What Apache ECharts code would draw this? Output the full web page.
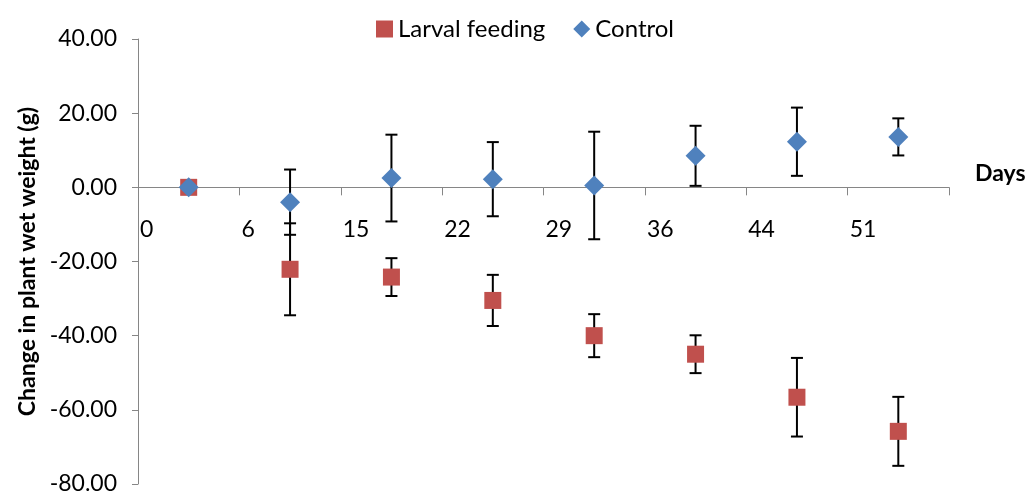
<!DOCTYPE html>
<html>
<head>
<meta charset="utf-8">
<script src="https://cdn.jsdelivr.net/npm/echarts@6/dist/echarts.min.js"></script>
<style>
  html, body { margin: 0; padding: 0; background: #ffffff; }
  #chart { width: 1030px; height: 497px; }
</style>
</head>
<body>
<div id="chart"></div>
<script>
// Sampling days shown under the axis
const dayLabels = ['0', '6', '15', '22', '29', '36', '44', '51'];

// Mean change in plant wet weight (g) and its error (±)
const larvalMean = [0, -22.1, -24.2, -30.5, -40.0, -45.0, -56.6, -65.8];
const larvalErr  = [0, 12.4, 5.1, 6.9, 5.8, 5.1, 10.6, 9.3];
const controlMean = [0, -4.0, 2.5, 2.2, 0.5, 8.5, 12.3, 13.6];
const controlErr  = [0, 8.8, 11.7, 10.0, 14.5, 8.1, 9.2, 5.0];

// Y axis range
const yMin = -80, yMax = 40, yStep = 20;

const FONT = 'Lato';
const RED = '#C0504D';
const BLUE = '#4F81BD';
const AXIS_GREY = '#868686';

const W = 1030, H = 497;
const GRID = { left: 138, right: 81, top: 39, bottom: 13 };
const plotHeight = H - GRID.top - GRID.bottom;
// The day axis crosses the value axis at zero: lift it from the bottom edge
const zeroLift = plotHeight * (0 - yMin) / (yMax - yMin);

// Each sampling occasion sits in the middle of its slot on the x axis
const points = (means) => means.map((m, i) => [i + 0.5, m]);
const ranges = (means, errs) => means.map((m, i) => [i + 0.5, m - errs[i], m + errs[i]]);

function renderErrorBar(params, api) {
  const x = api.value(0);
  const lo = api.value(1);
  const hi = api.value(2);
  if (hi === lo) return null;
  const top = api.coord([x, hi]);
  const bot = api.coord([x, lo]);
  const half = 6;
  const style = { stroke: '#000000', lineWidth: 2 };
  return {
    type: 'group',
    children: [
      { type: 'line', shape: { x1: top[0], y1: top[1], x2: bot[0], y2: bot[1] }, style },
      { type: 'line', shape: { x1: top[0] - half, y1: top[1], x2: top[0] + half, y2: top[1] }, style },
      { type: 'line', shape: { x1: bot[0] - half, y1: bot[1], x2: bot[0] + half, y2: bot[1] }, style }
    ]
  };
}

const chart = echarts.init(document.getElementById('chart'), null, { renderer: 'canvas' });

chart.setOption({
  animation: false,
  backgroundColor: '#ffffff',
  textStyle: { fontFamily: FONT },
  grid: {
    left: GRID.left, right: GRID.right, top: GRID.top, bottom: GRID.bottom,
    containLabel: false,
    outerBoundsMode: 'none'
  },
  legend: {
    left: 371,
    top: 12,
    itemWidth: 17,
    itemHeight: 17,
    itemGap: 28,
    textStyle: { fontFamily: FONT, fontSize: 24, color: '#000000' },
    data: [
      { name: 'Larval feeding', icon: 'rect' },
      { name: 'Control', icon: 'diamond' }
    ]
  },
  xAxis: {
    type: 'value',
    position: 'bottom',
    offset: -zeroLift,
    min: 0,
    max: dayLabels.length,
    interval: 1,
    axisLine: { onZero: false, lineStyle: { color: AXIS_GREY, width: 1 } },
    axisTick: { show: true, length: 8, lineStyle: { color: AXIS_GREY } },
    splitLine: { show: false },
    axisLabel: {
      formatter: (v) => (dayLabels[v] !== undefined ? dayLabels[v] : ''),
      align: 'left',
      padding: [0, 0, 0, 2],
      margin: 31,
      fontFamily: FONT,
      fontSize: 23,
      color: '#000000',
      showMinLabel: true,
      showMaxLabel: true
    }
  },
  yAxis: {
    type: 'value',
    min: yMin,
    max: yMax,
    interval: yStep,
    name: 'Change in plant wet weight (g)',
    nameLocation: 'middle',
    nameRotate: 90,
    nameGap: 99,
    nameTextStyle: { fontFamily: FONT, fontSize: 23, fontWeight: 'bold', color: '#000000' },
    axisLine: { show: true, lineStyle: { color: AXIS_GREY, width: 1 } },
    axisTick: { show: true, length: 6, lineStyle: { color: AXIS_GREY } },
    splitLine: { show: false },
    axisLabel: {
      formatter: (v) => v.toFixed(2),
      margin: 21,
      fontFamily: FONT,
      fontSize: 23,
      color: '#000000'
    }
  },
  graphic: [
    {
      type: 'text',
      left: 975,
      top: 162,
      style: { text: 'Days', font: 'bold 23px Lato', fill: '#000000' }
    }
  ],
  series: [
    {
      type: 'custom',
      renderItem: renderErrorBar,
      data: ranges(larvalMean, larvalErr),
      encode: { x: 0, y: [1, 2] },
      z: 1,
      silent: true
    },
    {
      type: 'custom',
      renderItem: renderErrorBar,
      data: ranges(controlMean, controlErr),
      encode: { x: 0, y: [1, 2] },
      z: 1,
      silent: true
    },
    {
      name: 'Larval feeding',
      type: 'scatter',
      symbol: 'rect',
      symbolSize: 17,
      itemStyle: { color: RED, opacity: 1 },
      data: points(larvalMean),
      z: 3
    },
    {
      name: 'Control',
      type: 'scatter',
      symbol: 'diamond',
      symbolSize: [20, 20],
      itemStyle: { color: BLUE, opacity: 1 },
      data: points(controlMean),
      z: 4
    }
  ]
});
</script>
</body>
</html>
